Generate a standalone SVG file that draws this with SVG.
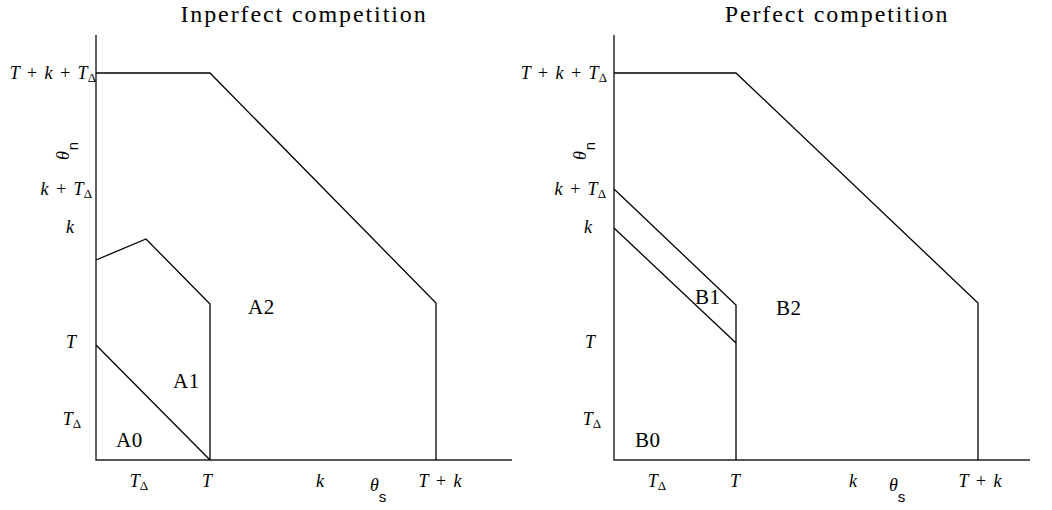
<svg xmlns="http://www.w3.org/2000/svg" width="1052" height="510" viewBox="0 0 1052 510">
<style>
.ln{fill:none;stroke:#000;stroke-width:1.3}
.ax{fill:none;stroke:#222;stroke-width:1.4}
.t{font-family:"Liberation Serif",serif;font-size:21px;fill:#000;letter-spacing:0.5px}
.m{font-family:"Liberation Serif",serif;font-style:italic;font-size:18px;fill:#000;word-spacing:2px}
.s{font-family:"Liberation Serif",serif;font-style:normal;font-size:13px}
.sf{font-family:"Liberation Sans",sans-serif;font-size:15px;fill:#000}
.ttl{font-family:"Liberation Serif",serif;font-size:24px;fill:#000;letter-spacing:1.9px}
</style>
<rect width="1052" height="510" fill="#fff"/>
<g id="left-panel">
<text class="ttl" x="304" y="22" text-anchor="middle">Inperfect competition</text>
<g id="left-axes" class="connectors">
<path class="ax" d="M96,35 V460 H512"/>
</g>
<g id="left-regions">
<path class="ln" d="M96,73 H210 L436,303 V460"/>
<path class="ln" d="M96,260 L146,239 L210,304 V460"/>
<path class="ln" d="M96,345 L210,460"/>
</g>
<g id="left-ylabels">
<text class="m" x="96" y="79" text-anchor="end">T + k + T<tspan class="s" dy="3">Δ</tspan></text>
<text class="m" x="92" y="195" text-anchor="end">k + T<tspan class="s" dy="3">Δ</tspan></text>
<text class="m" x="70" y="233" text-anchor="middle">k</text>
<text class="m" x="71" y="348" text-anchor="middle">T</text>
<text class="m" x="72" y="425" text-anchor="middle">T<tspan class="s" dy="3">Δ</tspan></text>
<text class="m" transform="translate(69,160) rotate(-90)">θ<tspan class="sf" dy="9" dx="1" font-style="normal">n</tspan></text>
</g>
<g id="left-xlabels">
<text class="m" x="139" y="487" text-anchor="middle">T<tspan class="s" dy="3">Δ</tspan></text>
<text class="m" x="207" y="487" text-anchor="middle">T</text>
<text class="m" x="320" y="487" text-anchor="middle">k</text>
<text class="m" x="370" y="491">θ<tspan class="sf" dy="11" font-style="normal">s</tspan></text>
<text class="m" x="440" y="487" text-anchor="middle">T + k</text>
</g>
<g id="A0"><text class="t" x="116" y="447">A0</text></g>
<g id="A1"><text class="t" x="173" y="388">A1</text></g>
<g id="A2"><text class="t" x="248" y="314">A2</text></g>
</g>
<g id="right-panel">
<text class="ttl" x="837" y="22" text-anchor="middle">Perfect competition</text>
<g id="right-axes" class="connectors">
<path class="ax" d="M614,35 V460 H1030"/>
</g>
<g id="right-regions">
<path class="ln" d="M614,73 H736 L978,303 V460"/>
<path class="ln" d="M614,189 L736,305 V460"/>
<path class="ln" d="M614,228 L736,343"/>
</g>
<g id="right-ylabels">
<text class="m" x="607" y="79" text-anchor="end">T + k + T<tspan class="s" dy="3">Δ</tspan></text>
<text class="m" x="606" y="195" text-anchor="end">k + T<tspan class="s" dy="3">Δ</tspan></text>
<text class="m" x="588" y="233" text-anchor="middle">k</text>
<text class="m" x="590" y="348" text-anchor="middle">T</text>
<text class="m" x="592" y="425" text-anchor="middle">T<tspan class="s" dy="3">Δ</tspan></text>
<text class="m" transform="translate(586,160) rotate(-90)">θ<tspan class="sf" dy="9" dx="1" font-style="normal">n</tspan></text>
</g>
<g id="right-xlabels">
<text class="m" x="657" y="487" text-anchor="middle">T<tspan class="s" dy="3">Δ</tspan></text>
<text class="m" x="735" y="487" text-anchor="middle">T</text>
<text class="m" x="853" y="487" text-anchor="middle">k</text>
<text class="m" x="889" y="491">θ<tspan class="sf" dy="11" font-style="normal">s</tspan></text>
<text class="m" x="980" y="487" text-anchor="middle">T + k</text>
</g>
<g id="B0"><text class="t" x="635" y="447">B0</text></g>
<g id="B1"><text class="t" x="695" y="304">B1</text></g>
<g id="B2"><text class="t" x="776" y="315">B2</text></g>
</g>
</svg>
